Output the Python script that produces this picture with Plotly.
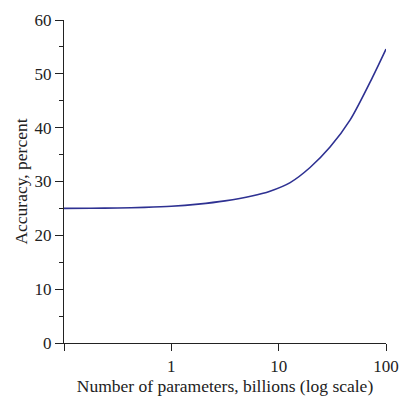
import plotly.graph_objects as go

params_billion = [0.1, 0.178, 0.316, 0.562, 1, 1.78, 3.16, 5.62, 8.3, 12.8, 19.6, 30.1, 46.2, 75, 100]
accuracy_pct = [25.0, 25.03, 25.08, 25.2, 25.4, 25.8, 26.4, 27.3, 28.2, 29.8, 32.6, 36.4, 41.4, 49.4, 54.6]

x_tickvals = [0.1, 1, 10, 100]
x_ticktext = ["", "1", "10", "100"]
y_tickvals = [0, 10, 20, 30, 40, 50, 60]

fig = go.Figure()
fig.add_trace(go.Scatter(
    x=params_billion, y=accuracy_pct, mode="lines",
    line=dict(color="#2e3192", width=1.6, shape="spline", smoothing=0.8),
    showlegend=False, hoverinfo="skip"))

font = dict(family="Liberation Serif, Times New Roman, serif", size=17, color="#222222")

fig.update_layout(
    width=400, height=400,
    margin=dict(l=64, r=14, t=20, b=57, autoexpand=False),
    paper_bgcolor="white", plot_bgcolor="white",
    font=font,
    xaxis=dict(
        type="log", range=[-1, 2], automargin=False,
        tickvals=x_tickvals, ticktext=x_ticktext,
        ticks="outside", ticklen=7, tickwidth=1, tickcolor="#222222",
        tickfont=dict(size=17),
        showline=True, linecolor="#222222", linewidth=1.3,
        showgrid=False, zeroline=False,
        title=dict(text="Number of parameters, billions (log scale)", standoff=4,
                   font=dict(size=17.5)),
    ),
    yaxis=dict(
        range=[0, 60], automargin=False,
        tickvals=y_tickvals,
        ticks="outside", ticklen=8, tickwidth=1, tickcolor="#222222",
        tickfont=dict(size=17),
        minor=dict(dtick=5, ticks="outside", ticklen=4, tickcolor="#222222", showgrid=False),
        showline=True, linecolor="#222222", linewidth=1.3,
        showgrid=False, zeroline=False,
        title=dict(text="Accuracy, percent", standoff=2, font=dict(size=17.5)),
    ),
)

fig.write_html("out.html", config={"displayModeBar": False},
               post_script="document.body.style.margin='0';")
